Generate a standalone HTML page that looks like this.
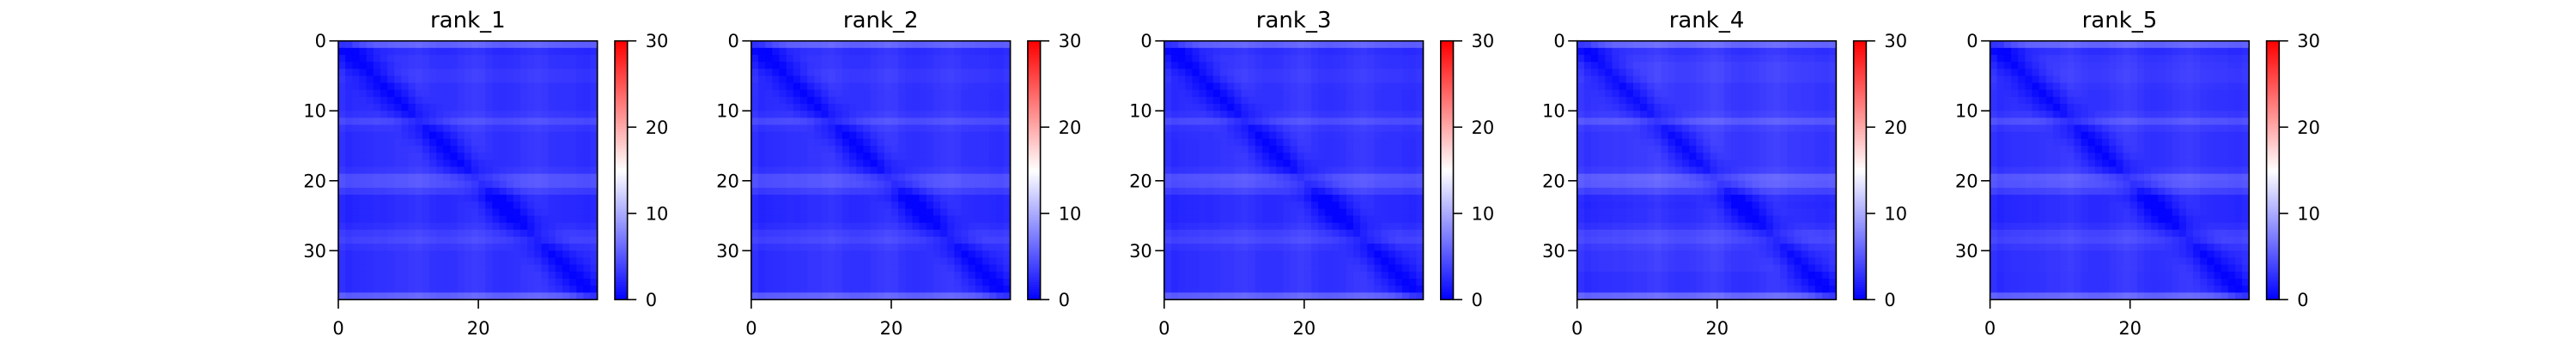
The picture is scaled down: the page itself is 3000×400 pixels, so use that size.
<!DOCTYPE html>
<html><head><meta charset="utf-8"><style>
html,body{margin:0;padding:0;background:#fff;width:3000px;height:400px;overflow:hidden}
svg text{font-family:"DejaVu Sans","Liberation Sans",sans-serif;fill:#000}
</style></head><body>
<svg id="fig" width="3000" height="400" xmlns="http://www.w3.org/2000/svg"></svg>
<script>
// ---- data ----
const panelTitles = ["rank_1","rank_2","rank_3","rank_4","rank_5"];
const axisTicks = [0,10,20,30];
const xTicks = [0,20];
const cbTicks = [0,10,20,30];
const vmin = 0, vmax = 30, nCells = 37;
// row-wise brightness profile per panel (value units)
const rowProfile1 = [6,2,2.5,2.5,3,3,2.5,2.5,2.5,2.5,3,4.5,3,2.5,2.5,2.5,2.5,2.5,3,5,5,3.5,2,2,2,2,2.5,3.5,4,3,2.5,2.5,2.5,2.5,2.5,2.5,6];
const rowProfile2 = [6,2.2,2.5,2.5,3,3,2.6,2.5,2.5,2.5,3,4.6,3,2.5,2.5,2.5,2.5,2.5,3,5,5,3.5,2,2,2,2,2.5,3.5,4,3,2.5,2.5,2.5,2.5,2.5,2.5,6];
const rowProfile3 = [6,2.2,2.6,2.6,3,3,2.6,2.5,2.5,2.5,3,4.6,3,2.6,2.5,2.5,2.5,2.5,3,5.2,5,3.6,2,2,2,2,2.5,3.6,4.1,3,2.5,2.5,2.5,2.5,2.5,2.5,6];
const rowProfile4 = [6.5,2.5,3,3.5,3.5,3.5,3,3,3,3,3.5,5.5,3.5,3,3,3,3,3,3.5,6,5.8,4,2.2,2,2.2,2.2,2.8,4.2,4.5,3.5,3,3,3,2.5,2.5,2.5,6.5];
const rowProfile5 = [6.2,2.2,2.8,3,3.2,3.2,2.8,2.6,2.6,2.6,3.2,5,3.2,2.6,2.6,2.6,2.6,2.6,3.2,5.5,5.3,3.8,2,2,2,2,2.6,3.8,4.2,3.2,2.6,2.6,2.6,2.5,2.5,2.5,6.2];
const colProfile = [0.3,0.3,0.5,0.6,0.6,0.8,0.8,1,1.2,1.2,1.4,1.4,1.3,1,0.8,0.8,0.9,1.2,1.4,1.4,1.2,0.9,0.8,0.7,0.8,1,1.2,1.3,1.4,1.3,1,0.9,0.8,0.8,0.6,0.5,0.3];
const diagDip = [2.8,2.2,1.5,0.9,0.4,0.1];
const rowProfiles = [rowProfile1,rowProfile2,rowProfile3,rowProfile4,rowProfile5];

// ---- layout ----
const NS = "http://www.w3.org/2000/svg";
const svg = document.getElementById("fig");
const axLeft0 = 394, axTop = 47.7, axSize = 301.7, panelStep = 480.9;
const cbOff = 322, cbW = 14.7;
function el(tag, attrs, parent){ const e=document.createElementNS(NS,tag); for(const k in attrs) e.setAttribute(k,attrs[k]); (parent||svg).appendChild(e); return e; }
function bwr(v){
  let t=(v-vmin)/(vmax-vmin); t=Math.max(0,Math.min(1,t));
  let r,g,b;
  if(t<0.5){ r=g=Math.round(255*2*t); b=255; } else { r=255; g=b=Math.round(255*2*(1-t)); }
  return `rgb(${r},${g},${b})`;
}
function cellValue(p,i,j){
  const d=Math.abs(i-j);
  let v=rowProfiles[p][i]*0.8+colProfile[j]*0.7+rowProfiles[p][j]*0.1;
  if(d<diagDip.length) v-=diagDip[d];
  return Math.max(0.2,v);
}
rowProfiles.forEach((rows,p)=>{
  const ax = axLeft0 + p*panelStep;
  const cell = axSize/nCells;
  const sx = v => ax + v*cell;
  const sy = v => axTop + v*cell;
  const g = el("g",{});
  
  
  const t = el("text",{x:ax+axSize/2,y:32,"font-size":26,"text-anchor":"middle"},g);
  t.textContent = panelTitles[p];
  
  
  for(let i=0;i<nCells;i++) for(let j=0;j<nCells;j++){
    const r = el("rect",{x:sx(j),y:sy(i),width:cell+0.6,height:cell+0.6,fill:bwr(cellValue(p,i,j))},g);
    
    
  }
  const fr = el("rect",{x:ax,y:axTop,width:axSize,height:axSize,fill:"none",stroke:"#000","stroke-width":1.6},g);
  
  
  axisTicks.forEach(v=>{
    el("line",{x1:ax-10.5,x2:ax,y1:sy(v),y2:sy(v),stroke:"#000","stroke-width":1.6},g);
    const tl = el("text",{x:ax-14,y:sy(v)+7.5,"font-size":21,"text-anchor":"end"},g);
    tl.textContent = v;
    
    
  });
  xTicks.forEach(v=>{
    el("line",{x1:sx(v),x2:sx(v),y1:axTop+axSize,y2:axTop+axSize+10.5,stroke:"#000","stroke-width":1.6},g);
    const tl = el("text",{x:sx(v),y:390,"font-size":21,"text-anchor":"middle"},g);
    tl.textContent = v;
    
    
  });
  // colorbar
  const cx = ax + cbOff;
  const cbg = el("g",{},g);
  
  
  const steps=100;
  for(let k=0;k<steps;k++){
    const v0=vmin+(vmax-vmin)*k/steps;
    const y=axTop+axSize-(k+1)*axSize/steps;
    el("rect",{x:cx,y:y,width:cbW,height:axSize/steps+0.6,fill:bwr(v0+(vmax-vmin)/(2*steps))},cbg);
  }
  el("rect",{x:cx,y:axTop,width:cbW,height:axSize,fill:"none",stroke:"#000","stroke-width":1.6},cbg);
  cbTicks.forEach(v=>{
    const y=axTop+axSize-(v-vmin)/(vmax-vmin)*axSize;
    el("line",{x1:cx+cbW,x2:cx+cbW+10.5,y1:y,y2:y,stroke:"#000","stroke-width":1.6},cbg);
    const tl = el("text",{x:cx+cbW+21,y:y+7.5,"font-size":21},cbg);
    tl.textContent = v;
    
    
  });
});
</script>
</body></html>
